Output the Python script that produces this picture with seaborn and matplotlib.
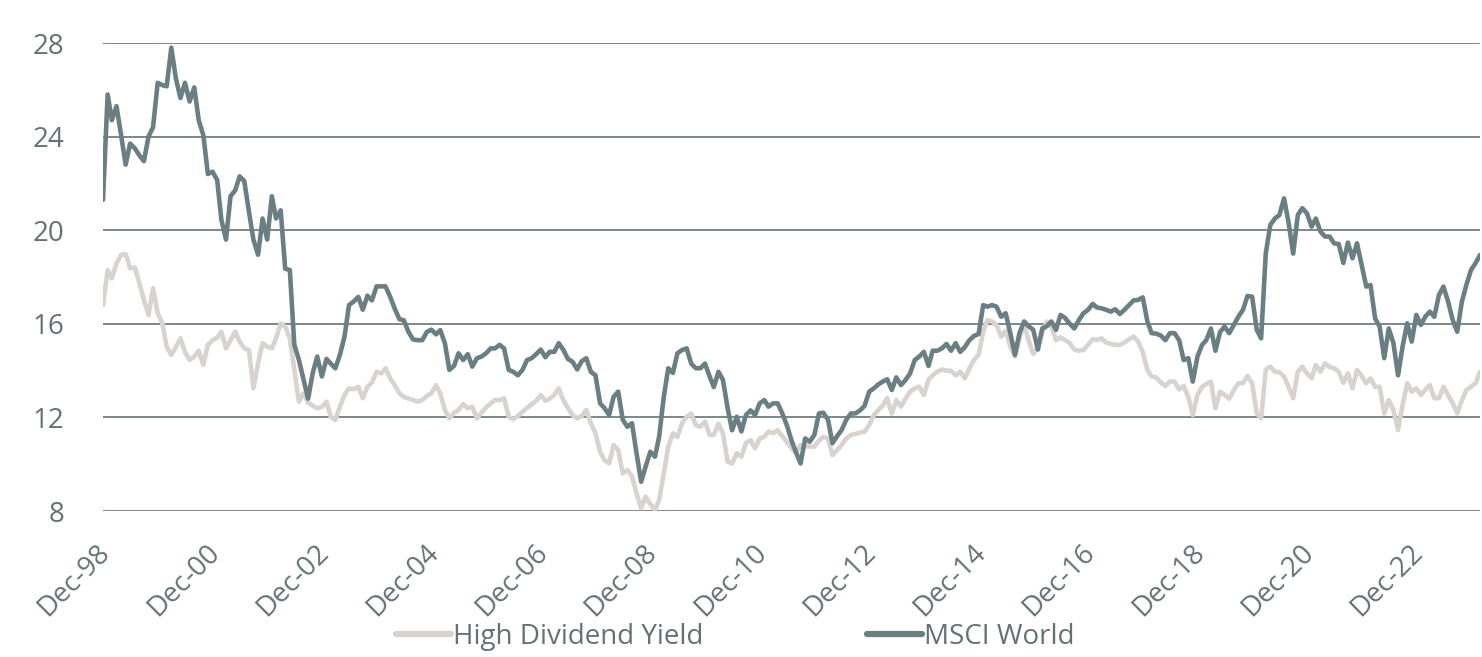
import matplotlib
matplotlib.use("Agg")
import matplotlib.pyplot as plt
import matplotlib.transforms as mtransforms
import seaborn as sns
import pandas as pd
import numpy as np

start_month = "1998-12-31"

msci_world = [
    21.3, 25.8, 24.7, 25.3, 24.1, 22.8, 23.7, 23.5, 23.2, 22.95,
    24.0, 24.4, 26.3, 26.2, 26.15, 27.8, 26.5, 25.65, 26.3, 25.5,
    26.1, 24.7, 24.05, 22.4, 22.5, 22.15, 20.45, 19.6, 21.45, 21.7,
    22.3, 22.1, 20.8, 19.6, 18.95, 20.5, 19.6, 21.45, 20.5, 20.85,
    18.35, 18.3, 15.1, 14.45, 13.6, 12.8, 13.9, 14.6, 13.75, 14.5,
    14.3, 14.1, 14.67, 15.45, 16.8, 16.95, 17.15, 16.6, 17.2, 17.0,
    17.6, 17.6, 17.6, 17.15, 16.65, 16.2, 16.15, 15.65, 15.33, 15.3,
    15.3, 15.65, 15.75, 15.55, 15.73, 15.17, 14.03, 14.2, 14.74, 14.45,
    14.7, 14.17, 14.53, 14.6, 14.74, 14.95, 14.95, 15.1, 14.95, 14.03,
    13.95, 13.8, 14.03, 14.45, 14.53, 14.7, 14.9, 14.57, 14.8, 14.8,
    15.17, 14.88, 14.5, 14.38, 14.05, 14.4, 14.53, 13.95, 13.8, 12.6,
    12.4, 12.1, 12.88, 13.1, 11.9, 11.6, 11.75, 10.47, 9.25, 9.9,
    10.53, 10.32, 11.17, 12.88, 14.1, 13.9, 14.74, 14.88, 14.95, 14.3,
    14.1, 14.1, 14.3, 13.75, 13.3, 13.95, 13.6, 12.4, 11.45, 12.03,
    11.4, 12.1, 12.3, 12.1, 12.6, 12.74, 12.46, 12.6, 12.6, 12.17,
    11.67, 11.03, 10.5, 10.03, 11.1, 10.96, 11.25, 12.17, 12.2, 11.9,
    10.9, 11.2, 11.46, 11.9, 12.17, 12.17, 12.3, 12.49, 13.1, 13.24,
    13.4, 13.53, 13.63, 13.17, 13.71, 13.38, 13.6, 13.88, 14.45, 14.6,
    14.8, 14.2, 14.85, 14.85, 14.95, 15.14, 14.85, 15.17, 14.8, 15.0,
    15.3, 15.48, 15.56, 16.8, 16.73, 16.8, 16.73, 16.3, 16.45, 15.6,
    14.67, 15.6, 16.1, 15.9, 15.74, 14.9, 15.8, 15.9, 16.1, 15.74,
    16.38, 16.25, 16.0, 15.8, 16.16, 16.45, 16.6, 16.85, 16.7, 16.66,
    16.6, 16.52, 16.62, 16.42, 16.6, 16.8, 17.0, 17.02, 17.13, 16.1,
    15.6, 15.58, 15.5, 15.3, 15.6, 15.6, 15.3, 14.45, 14.53, 13.53,
    14.6, 15.1, 15.3, 15.8, 14.85, 15.65, 15.88, 15.6, 15.95, 16.3,
    16.6, 17.19, 17.16, 15.74, 15.38, 19.0, 20.22, 20.5, 20.65, 21.36,
    20.3, 19.0, 20.65, 20.94, 20.72, 20.15, 20.5, 19.94, 19.73, 19.73,
    19.44, 19.41, 18.6, 19.47, 18.8, 19.44, 18.51, 17.59, 17.66, 16.23,
    15.88, 14.53, 15.8, 15.17, 13.8, 15.02, 16.02, 15.24, 16.38, 15.95,
    16.3, 16.52, 16.3, 17.23, 17.59, 16.95, 16.16, 15.66, 16.95, 17.66,
    18.3, 18.6, 18.94,
]

high_dividend_yield = [
    16.8, 18.3, 17.94, 18.58, 18.94, 18.98, 18.37, 18.41, 17.73, 17.02,
    16.38, 17.52, 16.45, 16.02, 15.02, 14.67, 15.0, 15.38, 14.8, 14.45,
    14.6, 14.85, 14.24, 15.1, 15.3, 15.4, 15.66, 14.95, 15.3, 15.66,
    15.24, 14.95, 14.88, 13.24, 14.31, 15.17, 15.02, 14.95, 15.38, 16.02,
    15.88, 15.38, 14.03, 12.67, 13.03, 12.63, 12.5, 12.39, 12.45, 12.67,
    12.03, 11.89, 12.46, 12.96, 13.24, 13.2, 13.31, 12.82, 13.31, 13.49,
    13.95, 13.88, 14.1, 13.67, 13.38, 13.03, 12.88, 12.8, 12.74, 12.67,
    12.74, 12.91, 13.03, 13.38, 13.03, 12.32, 11.96, 12.2, 12.32, 12.57,
    12.39, 12.46, 11.96, 12.2, 12.43, 12.6, 12.74, 12.74, 12.82, 12.03,
    11.92, 12.06, 12.24, 12.4, 12.57, 12.7, 12.96, 12.71, 12.8, 12.96,
    13.24, 12.74, 12.4, 12.1, 11.96, 12.06, 12.32, 11.75, 11.32, 10.53,
    10.18, 10.03, 10.82, 10.6, 9.61, 9.75, 9.47, 8.76, 8.12, 8.61,
    8.3, 8.04, 8.47, 9.61, 10.75, 11.32, 11.17, 11.75, 12.03, 12.17,
    11.67, 11.6, 11.82, 11.25, 11.25, 11.72, 11.32, 10.11, 10.03, 10.47,
    10.32, 10.9, 11.03, 10.68, 11.1, 11.17, 11.4, 11.32, 11.46, 11.2,
    10.95, 10.7, 10.47, 10.82, 10.78, 10.75, 10.75, 11.0, 11.17, 11.1,
    10.39, 10.6, 10.82, 11.1, 11.25, 11.29, 11.35, 11.39, 11.67, 12.1,
    12.3, 12.5, 12.82, 12.17, 12.74, 12.46, 12.8, 13.1, 13.24, 13.31,
    12.96, 13.6, 13.8, 13.95, 14.05, 14.0, 13.99, 13.8, 13.95, 13.67,
    14.1, 14.45, 14.67, 15.66, 16.16, 16.1, 15.95, 15.45, 15.7, 15.02,
    14.6, 15.38, 15.95, 15.3, 14.71, 15.0, 15.6, 16.1, 15.88, 15.3,
    15.42, 15.3, 15.17, 14.9, 14.85, 14.88, 15.1, 15.34, 15.3, 15.38,
    15.2, 15.14, 15.1, 15.1, 15.2, 15.34, 15.45, 15.24, 14.8, 14.03,
    13.75, 13.71, 13.5, 13.34, 13.53, 13.53, 13.2, 13.34, 12.88, 12.1,
    12.96, 13.31, 13.43, 13.53, 12.39, 13.1, 12.96, 12.8, 13.17, 13.46,
    13.46, 13.77, 13.46, 12.17, 11.96, 14.03, 14.17, 13.95, 13.93, 13.74,
    13.3, 12.82, 13.95, 14.17, 13.88, 13.67, 14.24, 13.95, 14.31, 14.15,
    14.1, 13.95, 13.48, 13.88, 13.24, 14.03, 13.77, 13.46, 13.67, 13.31,
    13.31, 12.17, 12.74, 12.32, 11.46, 12.53, 13.46, 13.1, 13.24, 12.96,
    13.17, 13.38, 12.82, 12.82, 13.31, 12.96, 12.6, 12.17, 12.74, 13.17,
    13.31, 13.46, 13.95,
]

series_names = ["High Dividend Yield", "MSCI World"]
series_colors = ["#d8d3ce", "#6a7f84"]
y_ticks = [8, 12, 16, 20, 24, 28]
tick_years = list(range(1998, 2023, 2))

n = min(len(msci_world), len(high_dividend_yield))
dates = pd.date_range(start_month, periods=n, freq="ME")
df = pd.concat([
    pd.DataFrame({"date": dates, "value": high_dividend_yield[:n], "series": series_names[0]}),
    pd.DataFrame({"date": dates, "value": msci_world[:n], "series": series_names[1]}),
])

sns.set_theme(style="white")
plt.rcParams["font.family"] = ["Open Sans", "DejaVu Sans"]
text_color = "#637274"

fig = plt.figure(figsize=(14.82, 6.57), dpi=100)
ax = fig.add_axes([103 / 1482, 1 - 511 / 657, (1480 - 103) / 1482, (511 - 43) / 657])

sns.lineplot(data=df, x="date", y="value", hue="series", hue_order=series_names,
             palette=series_colors, linewidth=3.3, ax=ax, legend=True)

ax.set_ylim(8, 28)
ax.set_xlim(dates[0], dates[-1])
ax.set_yticks(y_ticks)
ax.yaxis.grid(True, color="#7c8788", linewidth=1.4)
ax.set_axisbelow(True)
for s in ax.spines.values():
    s.set_visible(False)

tick_dates = [pd.Timestamp(f"{y}-12-31") for y in tick_years]
ax.set_xticks(tick_dates)
ax.set_xticklabels([d.strftime("Dec-%y") for d in tick_dates], rotation=45,
                   ha="right", rotation_mode="anchor")
ax.tick_params(axis="x", length=0, pad=20, labelsize=20, labelcolor=text_color)
ax.tick_params(axis="y", length=0, pad=28, labelsize=20, labelcolor=text_color)
offset = mtransforms.ScaledTranslation(-7 / 100, 0, fig.dpi_scale_trans)
for lbl in ax.get_xticklabels():
    lbl.set_transform(lbl.get_transform() + offset)
ax.set_xlabel("")
ax.set_ylabel("")

handles, labels = ax.get_legend_handles_labels()
ax.get_legend().remove()
leg = fig.legend(handles, labels, loc="center", bbox_to_anchor=(735 / 1482, 1 - 637 / 657),
                 ncol=2, frameon=False, fontsize=20, handlelength=2.0, handletextpad=0.05,
                 columnspacing=5.9, borderaxespad=0)
for t in leg.get_texts():
    t.set_color(text_color)
for h in leg.get_lines():
    h.set_linewidth(4.5)

fig.savefig("out.png", dpi=100)
